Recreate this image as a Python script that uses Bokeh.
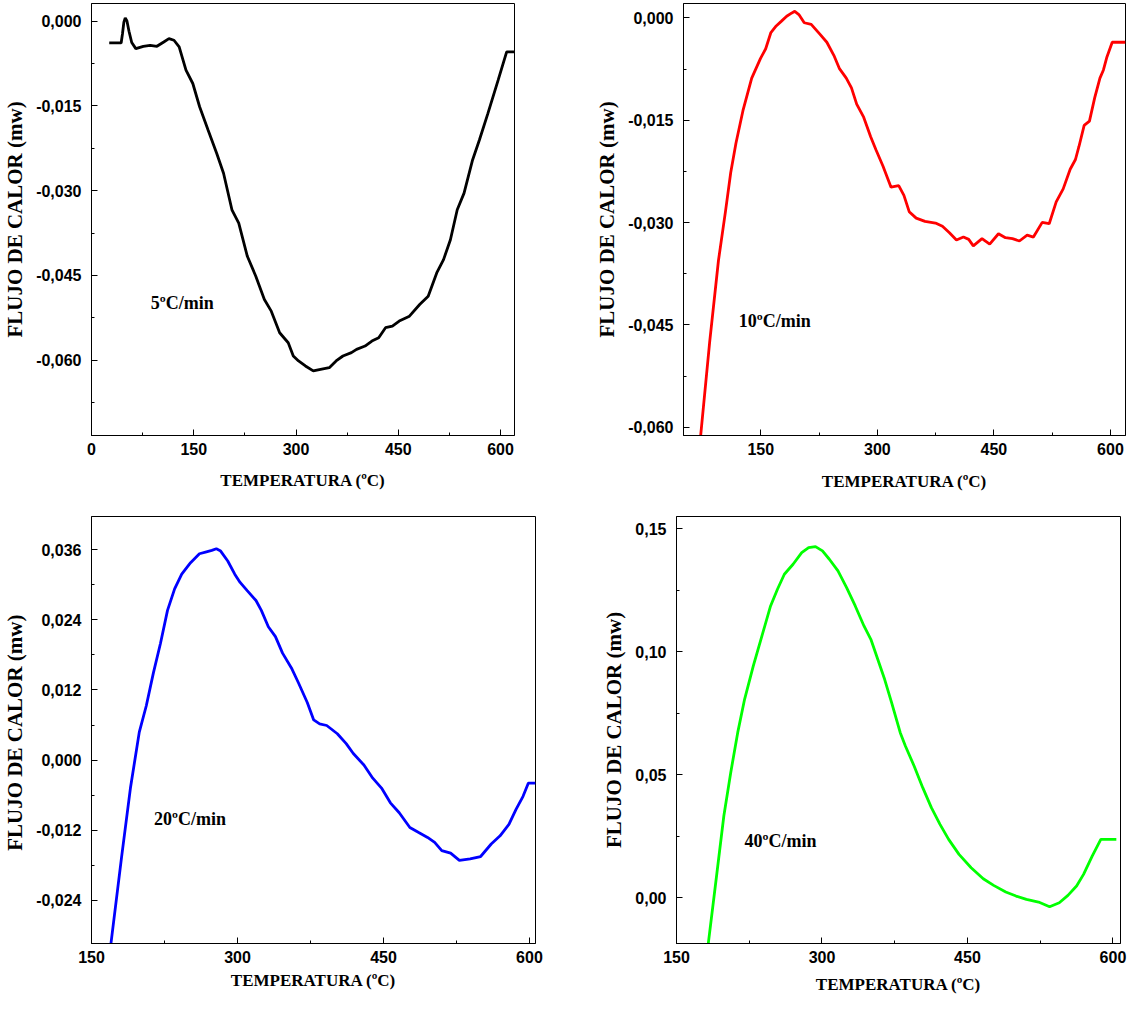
from bokeh.plotting import figure
from bokeh.layouts import column, row
from bokeh.models import Range1d, FixedTicker, CustomJSTickFormatter, Label
from bokeh.embed import file_html
from bokeh.resources import INLINE

# ---------------- data ----------------
temp_5 = [26, 43.5, 45.5, 47.5, 49.5, 52, 55, 59, 65, 76, 86, 96, 106, 113.6, 121, 128.6, 138.6,
          148.6, 158.6, 171, 183.6, 193.7, 206, 216, 228.6, 241, 253.6, 263.7, 276, 288.6, 296,
          303.7, 313.8, 325.3, 336, 348.8, 358.8, 368.8, 381.3, 388.8, 401.3, 411.3, 421.3, 431.3,
          441.4, 451.4, 466.4, 481.4, 493.9, 506.4, 516.4, 526.5, 536.5, 546.5, 559, 569, 581.5,
          596.5, 609, 620.5]
flux_5 = [-0.00388, -0.00388, -0.0022, -0.0002, 0.00055, 0.0, -0.0018, -0.0038, -0.00488, -0.00447,
          -0.00429, -0.00447, -0.0037, -0.00311, -0.0034, -0.00458, -0.0087, -0.01105, -0.01516,
          -0.01928, -0.02339, -0.02692, -0.03338, -0.03573, -0.04161, -0.04513, -0.04925, -0.05131,
          -0.05513, -0.05689, -0.05924, -0.06012, -0.061, -0.06188, -0.06159, -0.0613, -0.06012,
          -0.05924, -0.05865, -0.05806, -0.05748, -0.05659, -0.056, -0.05424, -0.05395, -0.05307,
          -0.05219, -0.05013, -0.04866, -0.04455, -0.0422, -0.03867, -0.03338, -0.03044, -0.02457,
          -0.02104, -0.01634, -0.01046, -0.00547, -0.00547]

temp_10 = [72.1, 84.2, 95.5, 104.5, 111.3, 118, 127, 138.3, 149.5, 156.3, 163, 169.8, 176.6, 183.3,
           190, 193.7, 199, 205.9, 214.9, 226, 235, 244, 251, 260, 266.7, 273.4, 282.4, 291.4,
           298.2, 307.2, 317.6, 327.5, 334.2, 341, 350, 361.3, 374.8, 383.8, 392.8, 401.8, 410.8,
           417.6, 423.5, 434.7, 444.6, 455.9, 464.9, 473.9, 482.9, 492.8, 500.9, 512.2, 521.2,
           530.2, 539.2, 548.2, 555, 559.5, 566.2, 573, 579.8, 586.5, 591, 595.5, 602.3, 619.4]
flux_10 = [-0.0618, -0.04749, -0.03556, -0.0284, -0.02267, -0.01838, -0.01361, -0.00883, -0.00597,
           -0.00453, -0.00215, -0.00119, -0.00048, 0.00024, 0.00072, 0.00095, 0.00048, -0.00072,
           -0.00095, -0.00239, -0.00358, -0.00549, -0.0074, -0.00883, -0.01026, -0.01265, -0.01456,
           -0.01742, -0.01933, -0.02172, -0.02482, -0.02458, -0.02601, -0.0284, -0.02935, -0.02983,
           -0.03007, -0.03055, -0.0315, -0.03255, -0.03212, -0.03246, -0.03341, -0.03236, -0.03317,
           -0.03164, -0.03222, -0.03236, -0.0327, -0.03184, -0.03212, -0.02997, -0.03017, -0.02697,
           -0.02506, -0.02219, -0.02076, -0.01885, -0.01575, -0.01513, -0.01169, -0.00883, -0.00764,
           -0.00573, -0.00358, -0.00358]

temp_20 = [170, 180.9, 190, 199.1, 206.3, 213.6, 220.9, 228.1, 235.4, 242.7, 251.8, 260.9, 268.1,
           273.6, 278.3, 282.7, 290, 297.2, 302.7, 310, 319, 324.5, 331.7, 339, 346.3, 355.4, 362.6,
           371.7, 378.3, 384.4, 391.7, 402.6, 411.7, 419, 429.9, 439, 448, 457.1, 466.2, 477.1,
           486.2, 495.3, 502.6, 509.9, 519, 528, 539, 549.8, 560.7, 569.8, 578.9, 586.2, 593.4,
           598.9, 606.2]
flux_20 = [-0.03138, -0.01662, -0.00479, 0.00479, 0.0093, 0.01493, 0.02, 0.02563, 0.0293, 0.03183,
           0.0338, 0.03532, 0.03566, 0.03589, 0.03617, 0.03578, 0.03408, 0.03183, 0.03042, 0.02901,
           0.02732, 0.02563, 0.02282, 0.02113, 0.01831, 0.01578, 0.01324, 0.00986, 0.00687, 0.0062,
           0.00592, 0.00451, 0.00282, 0.00113, -0.00085, -0.0031, -0.00479, -0.00732, -0.00901,
           -0.01155, -0.0124, -0.01324, -0.01409, -0.01549, -0.01594, -0.01718, -0.0169, -0.01651,
           -0.01437, -0.01296, -0.01099, -0.00845, -0.0062, -0.00394, -0.00394]

temp_40 = [182.8, 191.7, 198.8, 205.9, 213.1, 220.2, 229.2, 238.1, 247, 254.1, 261.2, 270.2, 279.1,
           286.2, 293.3, 300.5, 307.6, 316.5, 325.4, 334.3, 343.3, 350.4, 357.5, 364.6, 371.8,
           380.7, 386, 395, 403.9, 412.8, 421.7, 430.6, 441.3, 453.8, 466.3, 477, 489.5, 500.1,
           510.8, 523.3, 534.7, 544.7, 553.6, 562.5, 569.7, 578.6, 587.5, 603.5]
flux_40 = [-0.01856, 0.01016, 0.0332, 0.05081, 0.06707, 0.08062, 0.09417, 0.10637, 0.11856, 0.12534,
           0.13144, 0.1355, 0.14024, 0.14228, 0.14268, 0.14092, 0.13753, 0.13279, 0.12601, 0.11856,
           0.11043, 0.10501, 0.09688, 0.08875, 0.07927, 0.06707, 0.06165, 0.05352, 0.04472,
           0.03659, 0.02981, 0.02371, 0.01762, 0.0122, 0.00772, 0.00501, 0.0023, 0.00068, -0.00068,
           -0.00176, -0.00366, -0.00203, 0.00095, 0.00474, 0.00949, 0.01694, 0.02371, 0.02371]

x_ticks_5 = [0, 150, 300, 450, 600]
x_minor_5 = [75, 225, 375, 525]
x_ticks = [150, 300, 450, 600]
x_minor = [225, 375, 525]
y_ticks_5 = [0.0, -0.015, -0.030, -0.045, -0.060]
y_minor_5 = [-0.0075, -0.0225, -0.0375, -0.0525, -0.0675]
y_ticks_10 = [0.0, -0.015, -0.030, -0.045, -0.060]
y_minor_10 = [-0.0075, -0.0225, -0.0375, -0.0525]
y_ticks_20 = [0.036, 0.024, 0.012, 0.0, -0.012, -0.024]
y_minor_20 = [0.030, 0.018, 0.006, -0.006, -0.018]
y_ticks_40 = [0.15, 0.10, 0.05, 0.0]
y_minor_40 = [0.125, 0.075, 0.025]

rate_labels = ["5ºC/min", "10ºC/min", "20ºC/min", "40ºC/min"]
x_title = "TEMPERATURA (ºC)"
y_titles = ["FLUJO DE CALOR (mw)", "FLUJO DE CALOR (mw)", "FLUJO DE CALOR  (mw)", "FLUJO DE CALOR (mw)"]


def panel(xs, ys, color, xr, yr, xt, xm, yt, ym, dec, lab, lx, ly, ytitle,
          w, h, bl, br, bt, bb, xstand):
    p = figure(width=w, height=h, output_backend="svg", toolbar_location=None,
               x_range=Range1d(*xr), y_range=Range1d(*yr))
    p.min_border_left = bl
    p.min_border_right = br
    p.min_border_top = bt
    p.min_border_bottom = bb
    p.grid.visible = False
    p.outline_line_color = "black"
    p.outline_line_width = 1
    p.outline_line_alpha = 1
    p.line(xs, ys, line_width=2.8, color=color)
    p.xaxis.ticker = FixedTicker(ticks=xt, minor_ticks=xm)
    p.yaxis.ticker = FixedTicker(ticks=yt, minor_ticks=ym)
    p.yaxis.formatter = CustomJSTickFormatter(
        args=dict(d=dec), code="return tick.toFixed(d).replace('.', ',');")
    for ax in (p.xaxis[0], p.yaxis[0]):
        ax.axis_line_color = "black"
        ax.major_tick_in = 6
        ax.major_tick_out = 0
        ax.minor_tick_in = 3
        ax.minor_tick_out = 0
        ax.major_tick_line_color = "black"
        ax.minor_tick_line_color = "black"
        ax.major_label_text_font = "Liberation Sans"
        ax.major_label_text_font_style = "bold"
        ax.major_label_text_font_size = "16px"
        ax.major_label_text_color = "black"
        ax.axis_label_text_font = "Liberation Serif"
        ax.axis_label_text_font_style = "bold"
        ax.axis_label_text_color = "black"
    p.xaxis.axis_label = x_title
    p.xaxis.axis_label_text_font_size = "17px"
    p.xaxis.major_label_standoff = 7
    p.xaxis.axis_label_standoff = xstand
    p.yaxis.axis_label = ytitle
    p.yaxis.axis_label_text_font_size = "21px"
    p.yaxis.major_label_standoff = 10
    p.yaxis.axis_label_standoff = 6
    p.add_layout(Label(x=lx, y=ly, text=lab, text_font="Liberation Serif",
                       text_font_style="bold", text_font_size="18px",
                       text_align="left", text_baseline="middle", text_color="black"))
    return p


p1 = panel(temp_5, flux_5, "black", (0, 620.5), (-0.0733, 0.0031), x_ticks_5, x_minor_5,
           y_ticks_5, y_minor_5, 3, rate_labels[0], 87, -0.0498, y_titles[0],
           592, 502, 87, 78, 3, 67, 13)
p2 = panel(temp_10, flux_10, "#ff0000", (50.5, 619.4), (-0.0612, 0.0021), x_ticks, x_minor,
           y_ticks_10, y_minor_10, 3, rate_labels[1], 121.6, -0.0444, y_titles[1],
           535, 502, 88, 2, 0, 64, 14)
p3 = panel(temp_20, flux_20, "#0000ff", (150, 606.2), (-0.0314, 0.0417), x_ticks, x_minor,
           y_ticks_20, y_minor_20, 3, rate_labels[2], 214.3, -0.0101, y_titles[2],
           592, 496, 86, 57, 14, 51, 5)
p4 = panel(temp_40, flux_40, "#00ff00", (150, 607.8), (-0.0186, 0.1549), x_ticks, x_minor,
           y_ticks_40, y_minor_40, 2, rate_labels[3], 220.2, 0.023, y_titles[3],
           535, 496, 84, 7, 14, 55, 9)

layout = column(row(p1, p2), row(p3, p4))
open("out.html", "w").write(file_html(layout, INLINE))
